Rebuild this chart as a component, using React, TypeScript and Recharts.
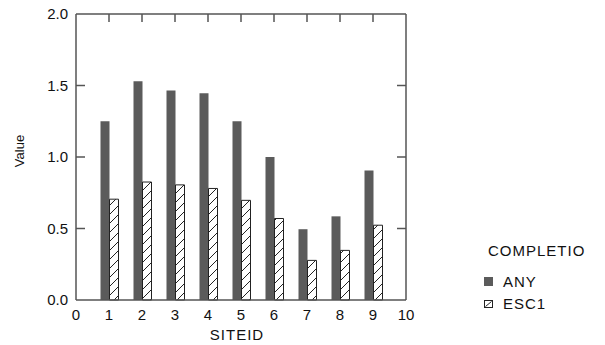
import { Bar, BarChart, Legend, ReferenceLine, XAxis, YAxis } from 'recharts';

const sites = [1, 2, 3, 4, 5, 6, 7, 8, 9];
const anyValues = [1.25, 1.53, 1.465, 1.445, 1.25, 1.0, 0.495, 0.585, 0.905];
const esc1Values = [0.705, 0.825, 0.805, 0.78, 0.697, 0.57, 0.277, 0.347, 0.523];
const xTicks = [0, 1, 2, 3, 4, 5, 6, 7, 8, 9, 10];
const yTicks = [0, 0.5, 1, 1.5, 2];

const data = sites.map((site, i) => ({
  site,
  ANY: anyValues[i],
  ESC1: esc1Values[i],
}));

const FONT = '"Liberation Sans", Arial, Helvetica, sans-serif';
const AXIS = '#555';
const DARK = '#5b5b5b';

// inward tick length, in axis units (plot is 330px x 286px)
const TICK_X = (9 / 330) * 10;
const TICK_Y = (8 / 286) * 2;

function LegendBox() {
  return (
    <div style={{ fontFamily: FONT, fontSize: 15, color: '#111', letterSpacing: 1 }}>
      <div style={{ marginLeft: 4, lineHeight: '18px' }}>COMPLETIO</div>
      <div style={{ display: 'flex', alignItems: 'center', marginTop: 12, height: 18 }}>
        <span style={{ width: 9, height: 9, background: DARK, display: 'inline-block' }} />
        <span style={{ marginLeft: 10 }}>ANY</span>
      </div>
      <div style={{ display: 'flex', alignItems: 'center', marginTop: 4, height: 18 }}>
        <svg width={9} height={9} style={{ display: 'block' }}>
          <rect x={0.5} y={1.5} width={8} height={7} fill="#fff" stroke="#222" strokeWidth={1} />
          <line x1={1.5} y1={7.5} x2={7.5} y2={2.5} stroke="#222" strokeWidth={1} />
        </svg>
        <span style={{ marginLeft: 10 }}>ESC1</span>
      </div>
    </div>
  );
}

export default function App() {
  const tickStyle = { fontSize: 15, fill: '#111', fontFamily: FONT };
  const tickLine = { stroke: AXIS, strokeWidth: 1.5 };
  return (
    <div style={{ position: 'absolute', left: 0, top: 0, background: '#fff' }}>
      <BarChart
        width={605}
        height={345}
        data={data}
        margin={{ top: 14, right: 199, bottom: 0, left: 0 }}
        barGap={0}
        barSize={9}
      >
        <defs>
          <pattern id="hatch" patternUnits="userSpaceOnUse" width={9} height={9}>
            <rect width={9} height={9} fill="#fff" />
            <line x1={0} y1={9} x2={9} y2={0} stroke="#222" strokeWidth={1} />
            <line x1={-1} y1={1} x2={1} y2={-1} stroke="#222" strokeWidth={1} />
            <line x1={8} y1={10} x2={10} y2={8} stroke="#222" strokeWidth={1} />
          </pattern>
        </defs>
        <XAxis
          xAxisId="b"
          dataKey="site"
          type="number"
          domain={[0, 10]}
          ticks={xTicks}
          allowDataOverflow
          height={45}
          stroke={AXIS}
          axisLine={false}
          tickLine={false}
          tickSize={0}
          tickMargin={9}
          tick={tickStyle}
          label={{
            value: 'SITEID',
            position: 'insideBottom',
            offset: 5,
            dx: -4,
            style: { fontSize: 15, fill: '#111', fontFamily: FONT, letterSpacing: 1 },
          }}
        />
        <XAxis
          xAxisId="bm"
          type="number"
          domain={[0, 10]}
          height={1}
          mirror
          stroke={AXIS}
          strokeWidth={1.5}
          axisLine
          tickLine={false}
          tick={false}
        />
        <XAxis
          xAxisId="t"
          orientation="top"
          type="number"
          domain={[0, 10]}
          height={1}
          mirror
          stroke={AXIS}
          strokeWidth={1.5}
          axisLine
          tickLine={false}
          tick={false}
        />
        <YAxis
          yAxisId="l"
          domain={[0, 2]}
          ticks={yTicks}
          width={76}
          stroke={AXIS}
          axisLine={false}
          tickLine={false}
          tickSize={0}
          tickMargin={8}
          tick={tickStyle}
          tickFormatter={(v: number) => v.toFixed(1)}
          label={{
            content: () => (
              <text
                x={19}
                y={151}
                transform="rotate(-90 19 151)"
                textAnchor="middle"
                dominantBaseline="central"
                style={{ fontSize: 13, fill: '#111', fontFamily: FONT }}
              >
                Value
              </text>
            ),
          }}
        />
        <YAxis
          yAxisId="lm"
          domain={[0, 2]}
          width={1}
          mirror
          stroke={AXIS}
          strokeWidth={1.5}
          axisLine
          tickLine={false}
          tick={false}
        />
        <YAxis
          yAxisId="r"
          orientation="right"
          domain={[0, 2]}
          width={1}
          mirror
          stroke={AXIS}
          strokeWidth={1.5}
          axisLine
          tickLine={false}
          tick={false}
        />
        {xTicks.slice(1, -1).map((t) => (
          <ReferenceLine
            key={`tx${t}`}
            xAxisId="b"
            yAxisId="l"
            segment={[{ x: t, y: 2 }, { x: t, y: 2 - TICK_Y }]}
            {...tickLine}
          />
        ))}
        {yTicks.slice(1, -1).map((t) => (
          <ReferenceLine
            key={`tl${t}`}
            xAxisId="b"
            yAxisId="l"
            segment={[{ x: 0, y: t }, { x: TICK_X, y: t }]}
            {...tickLine}
          />
        ))}
        {yTicks.slice(1, -1).map((t) => (
          <ReferenceLine
            key={`tr${t}`}
            xAxisId="b"
            yAxisId="l"
            segment={[{ x: 10 - TICK_X, y: t }, { x: 10, y: t }]}
            {...tickLine}
          />
        ))}
        <Legend
          layout="horizontal"
          verticalAlign="middle"
          align="center"
          wrapperStyle={{ left: 484, top: 242, width: 120, height: 80 }}
          content={() => <LegendBox />}
        />
        <Bar xAxisId="b" yAxisId="l" dataKey="ANY" fill={DARK} isAnimationActive={false} />
        <Bar
          xAxisId="b"
          yAxisId="l"
          dataKey="ESC1"
          fill="url(#hatch)"
          stroke="#222"
          strokeWidth={1}
          isAnimationActive={false}
        />
      </BarChart>
    </div>
  );
}
